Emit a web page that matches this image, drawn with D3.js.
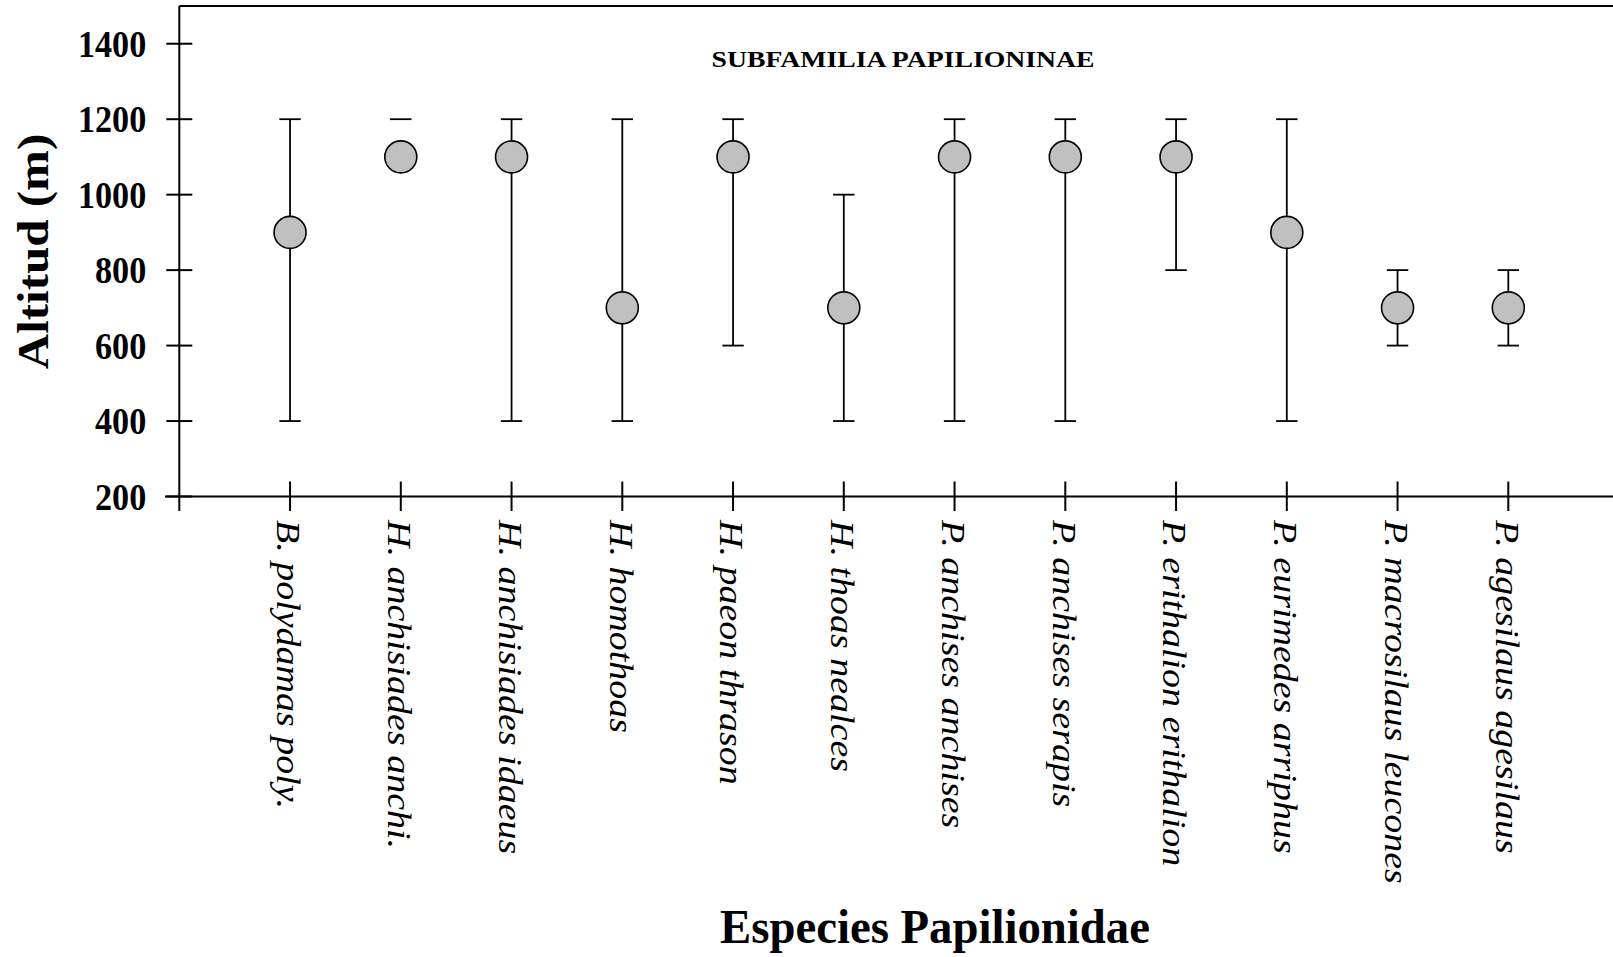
<!DOCTYPE html>
<html><head><meta charset="utf-8">
<script src="https://cdn.jsdelivr.net/npm/d3@7"></script>
<style>body{margin:0;background:#fff}svg{display:block}</style>
</head><body>
<svg id="c" width="1613" height="957"></svg>
<script>
const species = ["B. polydamas poly.","H. anchisiades anchi.","H. anchisiades idaeus","H. homothoas","H. paeon thrason","H. thoas nealces","P. anchises anchises","P. anchises serapis","P. erithalion erithalion","P. eurimedes arriphus","P. macrosilaus leucones","P. agesilaus agesilaus"];
const meanAlt = [900,1100,1100,700,1100,700,1100,1100,1100,900,700,700];
const lowAlt  = [400,null,400,400,600,400,400,400,800,400,600,600];
const highAlt = [1200,1200,1200,1200,1200,1000,1200,1200,1200,1200,800,800];
const yTicks = [200,400,600,800,1000,1200,1400];
const chartTitle = "SUBFAMILIA PAPILIONINAE";
const xTitle = "Especies Papilionidae";
const yTitle = "Altitud (m)";

const svg = d3.select("#c");
const x0 = 179.3, yBottom = 496.5, yTop = 6;
const step = 110.75;
const x = d3.scalePoint().domain(["", ...species, " "]).range([x0, x0 + step*13]);
const y = d3.scaleLinear().domain([200,1500]).range([yBottom, yTop]);
const SX = 0.9;
const serif = "'Liberation Serif','Times New Roman',Times,serif";

// frame: top line and left axis
svg.append("line").attr("x1",x0).attr("x2",1613).attr("y1",y(1500)).attr("y2",y(1500)).attr("stroke","#000").attr("stroke-width",2);
svg.append("line").attr("x1",x0).attr("x2",x0).attr("y1",y(1500)).attr("y2",511).attr("stroke","#000").attr("stroke-width",2);
svg.append("line").attr("x1",165).attr("x2",1613).attr("y1",yBottom).attr("y2",yBottom).attr("stroke","#000").attr("stroke-width",2);

// y ticks
const yt = svg.append("g");
yTicks.forEach(v=>{
  yt.append("line").attr("x1",x0-13).attr("x2",x0+13).attr("y1",y(v)).attr("y2",y(v)).attr("stroke","#000").attr("stroke-width",2);
  yt.append("text").attr("transform",`translate(${x0-33},${y(v)+13}) scale(${SX},1)`)
    .attr("text-anchor","end").attr("font-family",serif).attr("font-weight","bold").attr("font-size",38).text(v);
});

// x ticks and labels
species.forEach(s=>{
  const px = x(s);
  svg.append("line").attr("x1",px).attr("x2",px).attr("y1",yBottom-15).attr("y2",511).attr("stroke","#000").attr("stroke-width",2);
  svg.append("text").attr("transform",`translate(${px},520) scale(${SX},1) rotate(90)`)
    .attr("x",0).attr("y",14).attr("font-family",serif).attr("font-style","italic").attr("font-size",38).text(s);
});

// error bars and points
const cap = 10.7;
species.forEach((s,i)=>{
  const px = x(s);
  const g = svg.append("g").attr("stroke","#000").attr("stroke-width",1.8);
  if (lowAlt[i] !== null) {
    g.append("line").attr("x1",px).attr("x2",px).attr("y1",y(lowAlt[i])).attr("y2",y(highAlt[i]));
    g.append("line").attr("x1",px-cap).attr("x2",px+cap).attr("y1",y(lowAlt[i])).attr("y2",y(lowAlt[i]));
  }
  g.append("line").attr("x1",px-cap).attr("x2",px+cap).attr("y1",y(highAlt[i])).attr("y2",y(highAlt[i]));
  svg.append("circle").attr("cx",px).attr("cy",y(meanAlt[i])).attr("r",16)
    .attr("fill","#c0c0c0").attr("stroke","#000").attr("stroke-width",1.6);
});

// titles
svg.append("text").attr("x",903).attr("y",66.7).attr("text-anchor","middle")
  .attr("font-family",serif).attr("font-weight","bold").attr("font-size",24)
  .attr("textLength",383).attr("lengthAdjust","spacingAndGlyphs").text(chartTitle);
svg.append("text").attr("x",935).attr("y",943.3).attr("text-anchor","middle")
  .attr("font-family",serif).attr("font-weight","bold").attr("font-size",49)
  .attr("textLength",430).attr("lengthAdjust","spacingAndGlyphs").text(xTitle);
svg.append("text").attr("transform",`translate(48,251.5) scale(${SX},1) rotate(-90)`)
  .attr("text-anchor","middle").attr("font-family",serif).attr("font-weight","bold").attr("font-size",49).text(yTitle);
</script>
</body></html>
